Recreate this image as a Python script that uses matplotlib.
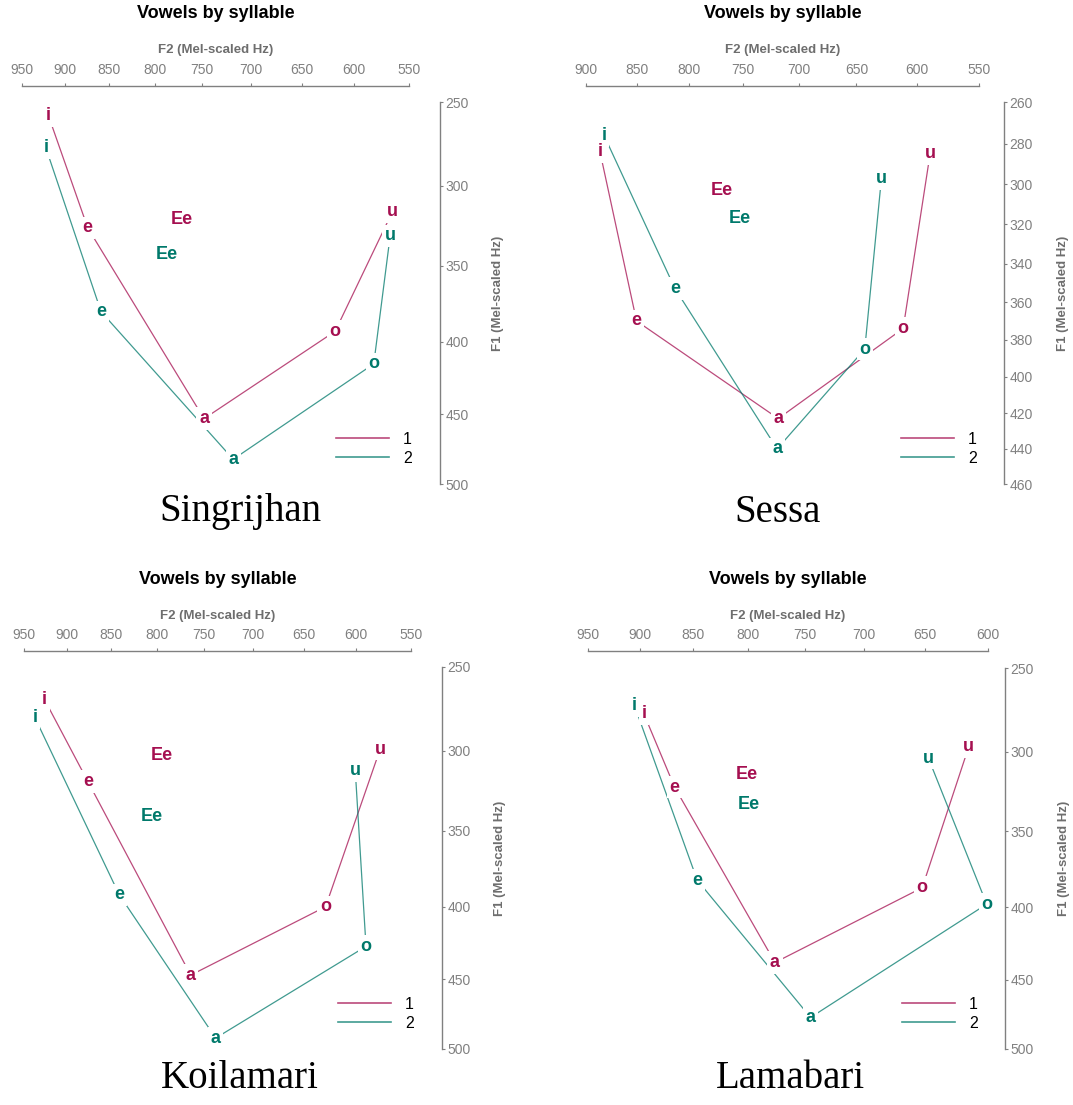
import numpy as np
import matplotlib
matplotlib.use('Agg')
import matplotlib.pyplot as plt
from matplotlib.lines import Line2D

plt.rcParams['font.family'] = ['Liberation Sans', 'DejaVu Sans']

W, H = 1073, 1105

# vowel order along each path
vowels = ['i', 'e', 'a', 'o', 'u']

# Singrijhan (F2, F1 in Hz) per syllable
sing_f2_1 = [919, 874, 748, 618, 565]
sing_f1_1 = [258, 326, 453, 393, 316]
sing_f2_2 = [922, 859, 718, 582, 567]
sing_f1_2 = [277, 380, 482, 415, 331]
sing_ee_1 = [771, 321]
sing_ee_2 = [787, 343]

# Sessa
sess_f2_1 = [886, 850, 718, 611, 589]
sess_f1_1 = [284, 370, 423, 374, 285]
sess_f2_2 = [882, 813, 719, 643, 629]
sess_f1_2 = [276, 353, 440, 385, 297]
sess_ee_1 = [769, 303]
sess_ee_2 = [753, 317]

# Koilamari
koil_f2_1 = [926, 876, 764, 629, 578]
koil_f1_1 = [269, 319, 447, 400, 299]
koil_f2_2 = [937, 841, 738, 591, 601]
koil_f1_2 = [280, 392, 492, 427, 312]
koil_ee_1 = [795, 303]
koil_ee_2 = [805, 341]

# Lamabari
lama_f2_1 = [896, 867, 776, 652, 615]
lama_f1_1 = [277, 322, 438, 387, 297]
lama_f2_2 = [905, 846, 745, 601, 647]
lama_f1_2 = [272, 382, 477, 398, 304]
lama_ee_1 = [801, 314]
lama_ee_2 = [799, 333]

red = '#A50F50'
teal = '#00796B'
grey = '#808080'


def mel(f):
    return 2595 * np.log10(1 + np.asarray(f, dtype=float) / 700)


def imel(m):
    return 700 * (10 ** (np.asarray(m, dtype=float) / 2595) - 1)


def fx(x):
    return x / W


def fy(y):
    return 1 - y / H


panels = [
    dict(name='Singrijhan', d1=(sing_f2_1, sing_f1_1), d2=(sing_f2_2, sing_f1_2),
         ee=(sing_ee_1, sing_ee_2), box=(22, 102, 409, 484), xlim=(950, 550),
         ylim=(500, 250), ystep=50, top=16, right=31, leg=(336, 449),
         title_y=14, xlab_y=50, ylab_x=498, site=(240, 512)),
    dict(name='Sessa', d1=(sess_f2_1, sess_f1_1), d2=(sess_f2_2, sess_f1_2),
         ee=(sess_ee_1, sess_ee_2), box=(586, 102, 979, 484), xlim=(900, 550),
         ylim=(460, 260), ystep=20, top=16, right=25, leg=(901, 449),
         title_y=14, xlab_y=50, ylab_x=1063, site=(778, 512)),
    dict(name='Koilamari', d1=(koil_f2_1, koil_f1_1), d2=(koil_f2_2, koil_f1_2),
         ee=(koil_ee_1, koil_ee_2), box=(24, 667, 411, 1049), xlim=(950, 550),
         ylim=(500, 250), ystep=50, top=16, right=31, leg=(338, 1014),
         title_y=580, xlab_y=616, ylab_x=500, site=(240, 1078)),
    dict(name='Lamabari', d1=(lama_f2_1, lama_f1_1), d2=(lama_f2_2, lama_f1_2),
         ee=(lama_ee_1, lama_ee_2), box=(588, 668, 988, 1049), xlim=(950, 600),
         ylim=(500, 250), ystep=50, top=17, right=17, leg=(902, 1014),
         title_y=580, xlab_y=616, ylab_x=1064, site=(790, 1078)),
]

fig = plt.figure(figsize=(W / 100, H / 100), dpi=100)

for p in panels:
    x0, y0, x1, y1 = p['box']
    ax = fig.add_axes([fx(x0), fy(y1), (x1 - x0) / W, (y1 - y0) / H])
    ax.set_xscale('function', functions=(mel, imel))
    ax.set_yscale('function', functions=(mel, imel))
    ax.set_xlim(p['xlim'])
    ax.set_ylim(p['ylim'])

    xt = np.arange(p['xlim'][0], p['xlim'][1] - 1, -50)
    yt = np.arange(p['ylim'][1], p['ylim'][0] + 1, p['ystep'])
    ax.xaxis.tick_top()
    ax.yaxis.tick_right()
    ax.set_xticks(xt, [str(v) for v in xt])
    ax.set_yticks(yt, [str(v) for v in yt])
    ax.minorticks_off()
    ax.tick_params(colors=grey, labelcolor=grey, labelsize=10, length=2.5, width=0.8)
    ax.tick_params(axis='x', pad=4)
    ax.tick_params(axis='y', pad=1.5)
    for s in ['left', 'bottom']:
        ax.spines[s].set_visible(False)
    ax.spines['top'].set_position(('outward', p['top'] * 0.72))
    ax.spines['right'].set_position(('outward', p['right'] * 0.72))
    for s in ['top', 'right']:
        ax.spines[s].set_color(grey)
        ax.spines[s].set_linewidth(1)

    for (f2, f1), col in [(p['d1'], red), (p['d2'], teal)]:
        ax.plot(f2, f1, color=col, lw=0.9, alpha=0.75, zorder=1)
        for v, a, b in zip(vowels, f2, f1):
            # white knock-out behind the label so the path stops short of it
            ax.text(a, b, v, color='none', fontsize=13, fontweight='bold',
                    ha='center', va='center', zorder=2,
                    bbox=dict(boxstyle='square,pad=0.15', fc='white', ec='none'))
            ax.text(a, b, v, color=col, fontsize=13, fontweight='bold',
                    ha='center', va='center', zorder=3)
    for (a, b), col in zip(p['ee'], [red, teal]):
        ax.text(a, b, 'Ee', color=col, fontsize=13, fontweight='bold',
                ha='center', va='center', zorder=3)

    handles = [Line2D([], [], color=red, lw=1.2, alpha=0.75),
               Line2D([], [], color=teal, lw=1.2, alpha=0.75)]
    ax.legend(handles, ['1', '2'], loc='center left', frameon=False,
              bbox_to_anchor=(fx(p['leg'][0]), fy(p['leg'][1])),
              bbox_transform=fig.transFigure, borderpad=0, borderaxespad=0,
              fontsize=11.5, handlelength=3.3, handletextpad=0.9, labelspacing=0.25)

    cx = (x0 + x1) / 2
    fig.text(fx(cx), fy(p['title_y']), 'Vowels by syllable', fontsize=13,
             fontweight='bold', ha='center', va='center')
    fig.text(fx(cx), fy(p['xlab_y']), 'F2 (Mel-scaled Hz)', fontsize=9.5,
             fontweight='bold', color='#6e6e6e', ha='center', va='center')
    fig.text(fx(p['ylab_x']), fy((y0 + y1) / 2), 'F1 (Mel-scaled Hz)', fontsize=9.5,
             fontweight='bold', color='#6e6e6e', ha='center', va='center', rotation=90)
    fig.text(fx(p['site'][0]), fy(p['site'][1]), p['name'], fontsize=28,
             family='Liberation Serif', ha='center', va='center')

fig.savefig('out.png', dpi=100)
